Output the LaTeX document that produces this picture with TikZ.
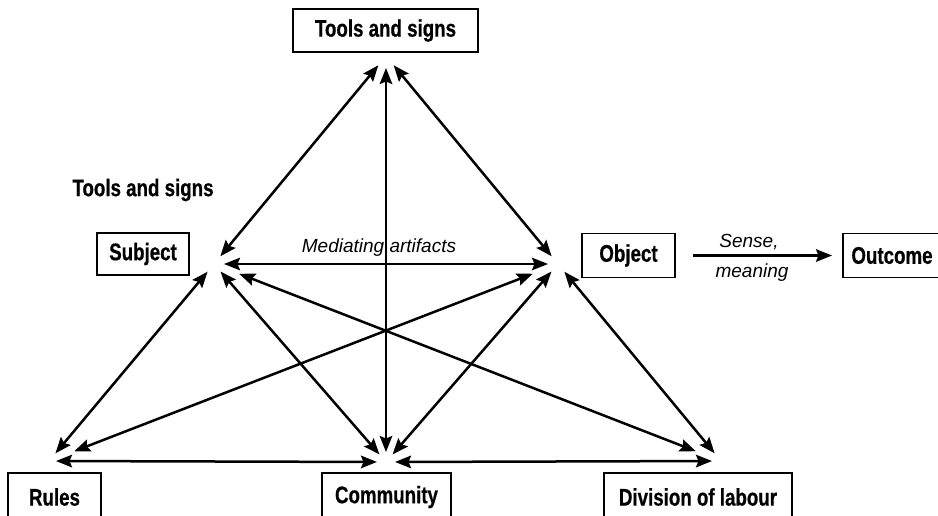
\documentclass[tikz,border=0pt]{standalone}
\usepackage{fontspec}
\setmainfont{Liberation Sans}
\newfontfamily\boxfont{Liberation Sans}[FakeStretch=0.78, BoldFeatures={FakeBold=0.6}]
\usetikzlibrary{arrows.meta}
\begin{document}
\begin{tikzpicture}[x=1pt,y=-1pt,
  box/.style={draw, line width=1.9pt, inner sep=0pt, font=\boxfont\bfseries\fontsize{24}{28}\selectfont},
  plain/.style={inner sep=0pt, font=\boxfont\bfseries\fontsize{24}{28}\selectfont},
  lab/.style={inner sep=0pt, font=\fontsize{19}{22}\selectfont\itshape},
  tip/.tip={Stealth[length=16pt,width=12.5pt,inset=2.5pt]},
  link/.style={line width=2.5pt, tip-tip, shorten <=10pt, shorten >=10pt},
  far/.style={shorten <=27pt, shorten >=27pt},
  one/.style={line width=2.5pt, -tip}
]
\useasboundingbox (0,0) rectangle (938,515);
\clip (0,0) rectangle (938,515);

% boxes
\node[box, minimum width=185pt, minimum height=43pt] (tools) at (385.5,30.5) {Tools and signs};
\node[box, minimum width=92pt, minimum height=42pt] (subj) at (143,254) {Subject};
\node[box, minimum width=93pt, minimum height=44pt] (obj) at (628.5,255.5) {Object};
\node[box, minimum width=98pt, minimum height=44pt] (out) at (892,255.5) {Outcome};
\node[box, minimum width=93pt, minimum height=48pt] (rules) at (54.5,497) {Rules};
\node[box, minimum width=129pt, minimum height=48pt] (comm) at (386.5,497) {Community};
\node[box, minimum width=188pt, minimum height=48pt] (div) at (698,497) {Division of labour};
\node[plain] (toolslab) at (143,190) {Tools and signs};

% convergence points
\coordinate (T) at (386,56);
\coordinate (S) at (214,264);
\coordinate (O) at (558,264);
\coordinate (R) at (49,461);
\coordinate (C) at (386,462);
\coordinate (D) at (721,461);

% links
\draw[link, shorten >=12pt] (S) -- (T);
\draw[link, shorten >=12pt] (O) -- (T);
\draw[link, shorten >=12pt] (C) -- (T);
\draw[link] (S) -- (O);
\draw[link] (S) -- (R);
\draw[link] (S) -- (C);
\draw[link, far] (S) -- (D);
\draw[link, far] (O) -- (R);
\draw[link] (O) -- (C);
\draw[link] (O) -- (D);
\draw[link, shorten <=7pt, shorten >=9pt] (R) -- (C);
\draw[link, shorten <=9pt, shorten >=9pt] (C) -- (D);

\node[lab, anchor=base] (med) at (379,252) {Mediating artifacts};

% outcome arrow
\draw[one, shorten <=17pt, shorten >=10pt] (obj.east) -- (obj.east -| out.west);
\node[lab, anchor=base] (sense) at (749,247) {Sense,};
\node[lab, anchor=base] (mean) at (752,277) {meaning};
\end{tikzpicture}
\end{document}
